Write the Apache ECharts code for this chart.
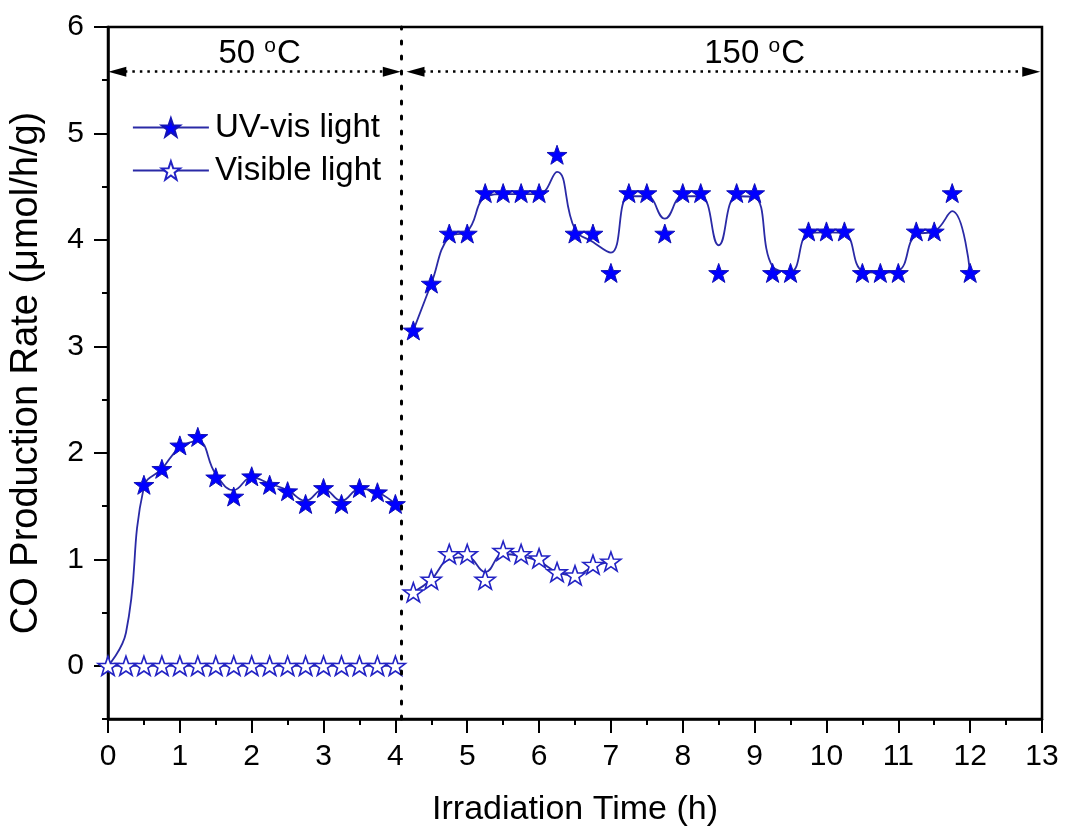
<!DOCTYPE html>
<html>
<head>
<meta charset="utf-8">
<script src="https://cdn.jsdelivr.net/npm/echarts@6/dist/echarts.min.js"></script>
<style>
html,body{margin:0;padding:0;background:#fff;}
#c{width:1065px;height:835px;}
</style>
</head>
<body>
<div id="c"></div>
<script>
// ---- data ----
const xTicks = [0,1,2,3,4,5,6,7,8,9,10,11,12,13];
const yTicks = [0,1,2,3,4,5,6];

// UV-vis light markers
const uvX1 = [0.5,0.75,1.0,1.25,1.5,1.75,2.0,2.25,2.5,2.75,3.0,3.25,3.5,3.75,4.0];
const uvY1 = [1.70,1.85,2.07,2.15,1.77,1.59,1.78,1.70,1.64,1.52,1.67,1.52,1.67,1.63,1.52];
const uvX2 = [4.25,4.5,4.75,5.0,5.25,5.5,5.75,6.0,6.25,6.5,6.75,7.0,7.25,7.5,7.75,8.0,
              8.25,8.5,8.75,9.0,9.25,9.5,9.75,10.0,10.25,10.5,10.75,11.0,11.25,11.5,11.75,12.0];
const uvY2 = [3.15,3.59,4.06,4.06,4.44,4.44,4.44,4.44,4.80,4.06,4.06,3.69,4.44,4.44,4.06,4.44,
              4.44,3.69,4.44,4.44,3.69,3.69,4.08,4.08,4.08,3.69,3.69,3.69,4.08,4.08,4.44,3.69];

// UV-vis smoothed curve
const uvCurveX1 = [0,0.25,0.5,0.75,1.0,1.25,1.5,1.75,2.0,2.25,2.5,2.75,3.0,3.25,3.5,3.75,4.0];
const uvCurveY1 = [0,0.31,1.68,1.85,2.05,2.11,1.80,1.65,1.77,1.71,1.65,1.55,1.66,1.55,1.66,1.63,1.52];
const uvCurveX2 = uvX2;
const uvCurveY2 = [3.15,3.59,4.03,4.08,4.40,4.43,4.43,4.43,4.64,4.10,3.98,3.88,4.41,4.41,4.20,4.41,
                   4.41,3.95,4.41,4.40,3.75,3.70,4.06,4.07,4.06,3.71,3.69,3.71,4.05,4.08,4.27,3.69];

// Visible light markers
const visX1 = [0,0.25,0.5,0.75,1.0,1.25,1.5,1.75,2.0,2.25,2.5,2.75,3.0,3.25,3.5,3.75,4.0];
const visY1 = [0,0,0,0,0,0,0,0,0,0,0,0,0,0,0,0,0];
const visX2 = [4.25,4.5,4.75,5.0,5.25,5.5,5.75,6.0,6.25,6.5,6.75,7.0];
const visY2 = [0.69,0.81,1.05,1.05,0.81,1.08,1.05,1.01,0.88,0.85,0.95,0.98];
// Visible light smoothed curve
const visCurveY2 = [0.69,0.81,1.00,1.02,0.88,1.05,1.03,0.98,0.88,0.85,0.93,0.98];

// annotations
const switchTime = 4.08;
const arrowLevel = 5.58;
const tempLabels = ['50', '150'];
const tempLabelX = [2.11, 9.0];
const tempLabelY = 5.75;

// ---- helpers ----
const pairs = (xs, ys) => xs.map((x, i) => [x, ys[i]]);
const FONT = '"Liberation Sans", Arial, sans-serif';
const STAR = 'path://M100,0 L123.5,67.6 L195.1,69.1 L138,112.4 L158.8,180.9 L100,140 L41.2,180.9 L62,112.4 L4.9,69.1 L76.5,67.6 Z';
const LINE_COLOR = '#2a2aa6';

const chart = echarts.init(document.getElementById('c'), null, {renderer: 'canvas'});

const curveStyle = {color: LINE_COLOR, width: 1.8};

const option = {
  animation: false,
  backgroundColor: '#fff',
  textStyle: {fontFamily: FONT},
  grid: {left: 107, right: 23, top: 27, bottom: 116, show: true, borderColor: '#000', borderWidth: 2.5, backgroundColor: 'transparent'},
  legend: {
    orient: 'vertical', left: 127, top: 106,
    itemWidth: 76, itemHeight: 23, itemGap: 10,
    textStyle: {fontSize: 33, fontFamily: FONT, color: '#000', padding: [0, 0, 0, 1]},
    data: [
      {name: 'UV-vis light', lineStyle: {opacity: 1, width: 1.8, color: LINE_COLOR}},
      {name: 'Visible light', lineStyle: {opacity: 1, width: 1.8, color: LINE_COLOR}}
    ]
  },
  xAxis: {
    type: 'value', min: xTicks[0], max: xTicks[xTicks.length - 1], interval: 1,
    name: 'Irradiation Time (h)', nameLocation: 'middle', nameGap: 74,
    nameTextStyle: {fontSize: 34, fontFamily: FONT, color: '#000'},
    axisLine: {show: true, onZero: false, lineStyle: {color: '#000', width: 2.5}},
    axisTick: {show: true, length: 14, lineStyle: {color: '#000', width: 2}},
    minorTick: {show: true, splitNumber: 2, length: 6, lineStyle: {color: '#000', width: 2}},
    axisLabel: {fontSize: 30, fontFamily: FONT, color: '#000', margin: 23},
    splitLine: {show: false}, minorSplitLine: {show: false}
  },
  yAxis: [
    {
      type: 'value', min: -0.5, max: 6, interval: 0.5,
      name: 'CO Production Rate (\u03bcmol/h/g)', nameLocation: 'middle', nameGap: 62,
      nameTextStyle: {fontSize: 38, fontFamily: FONT, color: '#000'},
      axisLine: {show: true, onZero: false, lineStyle: {color: '#000', width: 2.5}},
      axisTick: {show: true, length: 14, customValues: yTicks, lineStyle: {color: '#000', width: 2}},
      axisLabel: {fontSize: 30, fontFamily: FONT, color: '#000', margin: 24, customValues: yTicks,
                  formatter: v => (Number.isInteger(v) ? String(v) : '')},
      splitLine: {show: false}
    },
    {
      type: 'value', min: -0.5, max: 6, interval: 0.5, position: 'left',
      axisLine: {show: false},
      axisTick: {show: true, length: 6, lineStyle: {color: '#000', width: 2}},
      axisLabel: {show: false}, splitLine: {show: false}
    }
  ],
  series: [
    // annotations: vertical dotted divider
    {
      type: 'line', name: 'divider', data: [], silent: true,
      markLine: {
        silent: true, symbol: ['none', 'none'], label: {show: false},
        lineStyle: {color: '#000', width: 3, type: [3, 12], cap: 'round'},
        data: [[{coord: [switchTime, -0.5]}, {coord: [switchTime, 6]}]]
      }
    },
    // annotations: temperature-range arrows and labels
    {
      type: 'line', name: 'ranges', data: [], silent: true,
      markLine: {
        silent: true, symbol: ['triangle', 'triangle'], symbolSize: [10, 18], label: {show: false},
        lineStyle: {color: '#000', width: 2.5, type: [2.5, 5]},
        itemStyle: {color: '#000'},
        data: [
          [{coord: [0.13, arrowLevel]}, {coord: [3.95, arrowLevel]}],
          [{coord: [4.28, arrowLevel]}, {coord: [12.85, arrowLevel]}]
        ]
      },
      markPoint: {
        silent: true, symbol: 'rect', symbolSize: 1, itemStyle: {color: 'rgba(0,0,0,0)'},
        label: {
          show: true, position: 'inside', color: '#000',
          formatter: p => '{a|' + p.name + ' }{s|o}{a|C}',
          rich: {
            a: {fontSize: 33, fontFamily: FONT, color: '#000', lineHeight: 36},
            s: {fontSize: 21, fontFamily: FONT, color: '#000', verticalAlign: 'top', lineHeight: 30, padding: [0, 1, 0, 0]}
          }
        },
        data: tempLabels.map((t, i) => ({name: t, coord: [tempLabelX[i], tempLabelY]}))
      }
    },
    // smoothed curves
    {type: 'line', name: 'uv-curve-1', data: pairs(uvCurveX1, uvCurveY1), smooth: 0.45, showSymbol: false, symbol: 'none', lineStyle: curveStyle, z: 3},
    {type: 'line', name: 'uv-curve-2', data: pairs(uvCurveX2, uvCurveY2), smooth: 0.45, showSymbol: false, symbol: 'none', lineStyle: curveStyle, z: 3},
    {type: 'line', name: 'vis-curve-1', data: pairs(visX1, visY1), smooth: 0.45, showSymbol: false, symbol: 'none', lineStyle: curveStyle, z: 3},
    {type: 'line', name: 'vis-curve-2', data: pairs(visX2, visCurveY2), smooth: 0.45, showSymbol: false, symbol: 'none', lineStyle: curveStyle, z: 3},
    // markers
    {
      type: 'line', name: 'UV-vis light', data: pairs(uvX1, uvY1).concat(pairs(uvX2, uvY2)),
      symbol: STAR, symbolSize: 20, symbolKeepAspect: true, showAllSymbol: true,
      itemStyle: {color: '#0000ff', borderColor: '#1414b4', borderWidth: 1},
      lineStyle: {opacity: 0, width: 0}, z: 4
    },
    {
      type: 'line', name: 'Visible light', data: pairs(visX1, visY1).concat(pairs(visX2, visY2)),
      symbol: STAR, symbolSize: 20, symbolKeepAspect: true, showAllSymbol: true,
      itemStyle: {color: '#ffffff', borderColor: '#2323c4', borderWidth: 1.6},
      lineStyle: {opacity: 0, width: 0}, z: 4
    }
  ]
};
chart.setOption(option);
</script>
</body>
</html>
